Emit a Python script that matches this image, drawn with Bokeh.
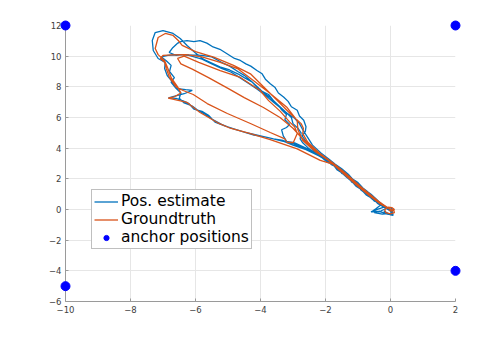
from bokeh.plotting import figure
from bokeh.models import Range1d, Legend, LegendItem, FixedTicker
from bokeh.embed import file_html
from bokeh.resources import INLINE

# ---------------- data ----------------
anchor_x = [-10, 2, -10, 2]
anchor_y = [12, 12, -5, -4]

x_ticks = [-10, -8, -6, -4, -2, 0, 2]
y_ticks = [-6, -4, -2, 0, 2, 4, 6, 8, 10, 12]

# groundtruth trajectory (x, y)
gt_path = [
    (0.0, 0.0), (-0.25, 0.35), (-0.6, 0.9), (-1.0, 1.6), (-1.4, 2.4), (-1.75, 3.0),
    (-2.2, 3.7), (-2.55, 4.4), (-2.7, 4.95), (-2.68, 5.3), (-2.75, 5.6),
    (-3.08, 6.25), (-3.49, 7.12), (-3.9, 7.99), (-4.31, 8.85), (-4.83, 9.4), (-5.44, 9.94),
    (-6.0, 10.3), (-6.41, 10.7), (-6.53, 11.02), (-6.69, 11.35), (-6.93, 11.48), (-7.15, 11.22),
    (-7.24, 10.5), (-7.15, 10.1), (-6.95, 9.7), (-6.85, 9.2), (-6.75, 8.6), (-6.55, 8.0),
    (-6.45, 7.6), (-6.65, 7.35), (-6.84, 7.26),
    (-6.26, 6.98), (-5.86, 6.33), (-5.33, 5.67), (-4.93, 5.3), (-4.31, 4.95), (-3.7, 4.55),
    (-2.87, 3.95), (-2.16, 3.2), (-1.75, 2.95),
    (-1.35, 2.3), (-0.95, 1.55), (-0.55, 0.85), (-0.2, 0.25), (0.0, 0.0),
    (-0.3, 0.4), (-0.7, 1.05), (-1.1, 1.75), (-1.5, 2.55), (-1.8, 3.05),
    (-2.3, 3.75), (-2.7, 4.5), (-2.85, 5.2), (-2.87, 5.8), (-3.18, 6.65), (-3.7, 7.56),
    (-4.22, 8.41), (-4.71, 9.19), (-5.24, 9.59), (-5.8, 9.95), (-6.3, 10.1), (-6.7, 10.08),
    (-7.0, 10.05), (-7.08, 9.85), (-6.95, 9.6),
    (-6.9, 9.2), (-6.8, 8.6), (-6.6, 8.0), (-6.38, 7.76), (-6.07, 7.5), (-5.64, 6.91),
    (-5.02, 6.26), (-4.31, 5.61), (-3.7, 5.02), (-3.25, 4.6), (-3.18, 4.37), (-2.99, 4.37),
    (-2.87, 4.95), (-2.95, 5.4), (-3.1, 5.7), (-3.39, 6.4), (-3.75, 7.1), (-4.01, 7.76),
    (-4.62, 8.61), (-5.24, 9.06), (-5.9, 9.6), (-6.35, 10.0), (-6.55, 9.85), (-6.45, 9.5),
    (-6.1, 9.15), (-5.6, 8.6), (-5.0, 7.9), (-4.5, 7.3), (-3.91, 6.65), (-3.4, 6.0),
    (-3.0, 5.3), (-2.7, 4.6), (-2.3, 3.85), (-1.85, 3.1),
    (-1.45, 2.35), (-1.05, 1.6), (-0.65, 0.9), (-0.3, 0.35), (-0.05, 0.05),
    (0.1, -0.05), (0.12, -0.2), (0.0, -0.28), (-0.15, -0.2), (-0.18, 0.0), (-0.08, 0.15),
    (0.05, 0.12), (0.12, 0.0), (0.05, -0.1), (-0.05, -0.05),
]

# position estimate (x, y)
est_path = [
    (0.05, -0.05), (-0.2, 0.2), (-0.35, 0.45), (-0.5, 0.55), (-0.62, 0.85), (-0.8, 1.1),
    (-0.95, 1.45), (-1.1, 1.6), (-1.2, 1.95), (-1.4, 2.2), (-1.5, 2.5), (-1.7, 2.75),
    (-1.8, 3.0), (-2.05, 3.3), (-2.2, 3.65), (-2.35, 3.8), (-2.5, 4.15), (-2.6, 4.45),
    (-2.72, 4.8), (-2.62, 5.1), (-2.6, 5.4), (-2.67, 5.82), (-2.8, 6.1), (-2.87, 6.47),
    (-3.05, 6.7), (-3.15, 7.05), (-3.29, 7.34), (-3.45, 7.6), (-3.55, 7.95), (-3.7, 8.2),
    (-3.85, 8.5), (-3.95, 8.85), (-4.11, 9.07), (-4.3, 9.35), (-4.45, 9.5), (-4.62, 9.72),
    (-4.8, 9.85), (-5.03, 10.16), (-5.25, 10.45), (-5.46, 10.6), (-5.65, 10.85),
    (-5.86, 11.02), (-6.05, 10.95), (-6.26, 11.02), (-6.45, 10.95), (-6.56, 10.83),
    (-6.7, 10.55), (-6.81, 10.24), (-6.6, 10.05), (-6.4, 10.1), (-6.2, 10.08), (-5.8, 10.05),
    (-5.5, 9.95), (-5.2, 9.6), (-4.95, 9.35), (-4.7, 9.0), (-4.5, 8.75), (-4.3, 8.4),
    (-4.1, 8.0), (-3.95, 7.7), (-3.75, 7.5), (-3.6, 7.1), (-3.45, 6.8), (-3.35, 6.5),
    (-3.2, 6.2), (-3.25, 5.85), (-3.1, 5.55), (-3.2, 5.35), (-3.35, 5.2), (-3.3, 4.8),
    (-3.2, 4.45), (-2.95, 4.35), (-2.6, 4.0), (-2.3, 3.7), (-2.0, 3.3), (-1.8, 3.0),
    (-1.6, 2.7), (-1.4, 2.45), (-1.25, 2.1), (-1.0, 1.75), (-0.85, 1.4), (-0.7, 1.15),
    (-0.55, 0.85), (-0.4, 0.55), (-0.3, 0.3), (-0.45, 0.05), (-0.55, -0.1), (-0.3, -0.15),
    (-0.1, -0.3), (0.05, -0.35), (0.0, -0.1),
    (-0.2, 0.15), (-0.4, 0.4), (-0.55, 0.7), (-0.75, 0.95), (-0.9, 1.3), (-1.05, 1.5),
    (-1.2, 1.85), (-1.35, 2.1), (-1.5, 2.4), (-1.65, 2.6), (-1.75, 2.9), (-1.95, 3.1),
    (-2.15, 3.45), (-2.35, 3.7), (-2.55, 4.05), (-2.7, 4.35), (-2.78, 4.6), (-2.75, 5.0),
    (-2.85, 5.3), (-3.0, 5.6), (-3.05, 6.0), (-3.3, 6.5), (-3.5, 6.9), (-3.7, 7.3),
    (-3.9, 7.6), (-4.1, 7.95), (-4.25, 8.3), (-4.5, 8.6), (-4.7, 8.85), (-4.95, 9.1),
    (-5.25, 9.3), (-5.5, 9.55), (-5.75, 9.8), (-6.0, 10.2), (-6.26, 10.7), (-6.47, 11.15),
    (-6.69, 11.48), (-7.0, 11.67), (-7.24, 11.54), (-7.33, 11.02), (-7.3, 10.37),
    (-7.15, 9.85), (-6.93, 9.59), (-6.95, 9.2), (-6.87, 8.74), (-6.69, 8.28), (-6.56, 7.89),
    (-6.3, 7.82), (-6.1, 7.77), (-6.35, 7.55), (-6.55, 7.45), (-6.83, 7.28), (-6.6, 7.25),
    (-6.4, 7.1), (-6.2, 6.9), (-6.05, 6.55), (-5.8, 6.4), (-5.6, 6.15), (-5.4, 5.7),
    (-5.1, 5.45), (-4.8, 5.25), (-4.5, 5.05), (-4.2, 4.85), (-3.9, 4.75), (-3.6, 4.6),
    (-3.3, 4.5), (-3.0, 4.3), (-2.7, 4.05), (-2.4, 3.75), (-2.15, 3.45), (-1.95, 3.2),
    (-1.75, 2.95), (-1.55, 2.6), (-1.4, 2.3), (-1.2, 2.0), (-1.05, 1.65), (-0.85, 1.35),
    (-0.65, 1.0), (-0.5, 0.7), (-0.35, 0.4), (-0.2, 0.15), (-0.5, -0.05), (-0.6, -0.15),
    (-0.35, -0.12), (-0.15, -0.25), (-0.2, -0.1), (0.0, -0.35), (0.08, -0.38), (0.05, -0.1),
    (-0.15, 0.1), (-0.35, 0.35), (-0.55, 0.65), (-0.7, 0.95), (-0.9, 1.25), (-1.0, 1.55),
    (-1.2, 1.8), (-1.3, 2.15), (-1.5, 2.35), (-1.6, 2.7), (-1.8, 2.9), (-2.0, 3.25),
    (-2.2, 3.5), (-2.6, 3.9), (-3.0, 4.2), (-3.3, 4.45), (-3.7, 4.65), (-4.1, 4.85),
    (-4.5, 5.05), (-4.9, 5.3), (-5.2, 5.55), (-5.5, 5.9), (-5.7, 6.2), (-5.95, 6.5),
    (-6.1, 6.75), (-6.35, 6.95), (-6.5, 7.25), (-6.45, 7.6), (-6.6, 7.9), (-6.75, 8.3),
    (-6.65, 8.6), (-6.8, 9.0), (-6.75, 9.4), (-6.9, 9.7), (-7.05, 9.95), (-6.85, 10.05),
    (-6.5, 10.1), (-6.2, 10.05), (-5.8, 9.8), (-5.5, 9.5), (-5.2, 9.2), (-4.9, 8.95),
    (-4.6, 8.55), (-4.35, 8.2), (-4.1, 7.85), (-3.85, 7.45), (-3.6, 7.0), (-3.4, 6.65),
    (-3.2, 6.3), (-2.95, 5.95), (-2.8, 5.6), (-2.7, 5.2), (-2.55, 4.7), (-2.4, 4.2),
    (-2.15, 3.7), (-1.9, 3.3), (-1.7, 2.95), (-1.5, 2.65), (-1.3, 2.3), (-1.15, 1.95),
    (-0.95, 1.6), (-0.8, 1.3), (-0.6, 1.0), (-0.45, 0.7), (-0.3, 0.4), (-0.1, 0.1),
    (-0.3, -0.1), (-0.5, -0.2), (-0.25, -0.3), (0.0, -0.25), (0.1, 0.0), (0.0, 0.1),
]

gt_x = [q[0] for q in gt_path]
gt_y = [q[1] for q in gt_path]
est_x = [q[0] for q in est_path]
est_y = [q[1] for q in est_path]

# ---------------- figure ----------------
p = figure(width=487, height=323, output_backend="svg", toolbar_location=None,
           x_range=Range1d(-10, 2), y_range=Range1d(-6, 12),
           min_border_left=65, min_border_right=32, min_border_top=25, min_border_bottom=22)
p.outline_line_color = None
p.background_fill_color = "white"
p.border_fill_color = "white"

for ax in (p.xaxis[0], p.yaxis[0]):
    ax.axis_line_color = "#9a9a9a"
    ax.axis_line_width = 1
    ax.major_tick_line_color = "#9a9a9a"
    ax.major_tick_in = 3
    ax.major_tick_out = 0
    ax.minor_tick_line_color = None
    ax.major_label_text_font = "DejaVu Sans"
    ax.major_label_text_font_size = "8.5px"
    ax.major_label_text_color = "#404040"
p.xaxis[0].ticker = FixedTicker(ticks=x_ticks)
p.yaxis[0].ticker = FixedTicker(ticks=y_ticks)
p.xaxis[0].major_label_standoff = 4
p.yaxis[0].major_label_standoff = 4

p.xgrid[0].ticker = FixedTicker(ticks=x_ticks)
p.ygrid[0].ticker = FixedTicker(ticks=y_ticks)
p.grid.grid_line_color = "#e6e6e6"
p.grid.grid_line_width = 1

r_est = p.line(est_x, est_y, line_color="#0072BD", line_width=1.3)
r_gt = p.line(gt_x, gt_y, line_color="#D95319", line_width=1.3)
# drawn at the overlay level so the corner anchors are not cut by the frame
r_anc = p.scatter(anchor_x, anchor_y, size=9, fill_color="#0000FF", line_color="#0000FF",
                  level="overlay")

legend = Legend(items=[
    LegendItem(label="Pos. estimate", renderers=[r_est]),
    LegendItem(label="Groundtruth", renderers=[r_gt]),
    LegendItem(label="anchor positions", renderers=[r_anc], index=0),
], location=(26, 52))
legend.label_text_font = "DejaVu Sans"
legend.label_text_font_size = "15.5px"
legend.label_text_color = "#000000"
legend.glyph_width = 24
legend.glyph_height = 13
legend.label_height = 18
legend.label_standoff = 3
legend.spacing = 0
legend.padding = 2
legend.margin = 0
legend.border_line_color = "#7f7f7f"
legend.border_line_width = 1
legend.background_fill_color = "white"
legend.background_fill_alpha = 1
p.add_layout(legend, "center")

open("out.html", "w").write(file_html(p, INLINE))
